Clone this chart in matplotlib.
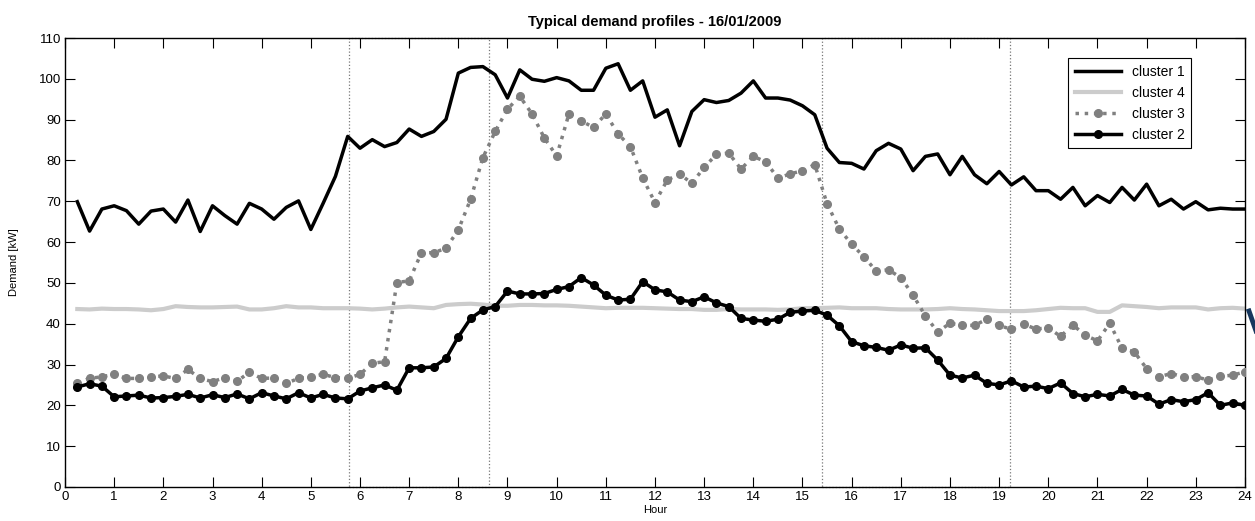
import matplotlib
matplotlib.use('Agg')
import matplotlib.pyplot as plt
from matplotlib.lines import Line2D
import numpy as np

plt.rcParams['font.family'] = ['Liberation Sans', 'DejaVu Sans']

# quarter-hour steps 0.25 .. 24
hours = np.arange(1, 97) * 0.25

cluster1 = [69.9, 62.7, 68.1, 68.9, 67.7, 64.4, 67.6, 68.1, 64.9, 70.3, 62.6, 68.9,
            66.5, 64.4, 69.5, 68.1, 65.6, 68.5, 70.1, 63.1, 69.5, 76.1, 85.9, 83.0,
            85.1, 83.4, 84.4, 87.7, 85.9, 87.1, 90.1, 101.4, 102.8, 103.0, 101.0, 95.3,
            102.2, 99.9, 99.4, 100.3, 99.5, 97.2, 97.2, 102.6, 103.7, 97.2, 99.5, 90.6,
            92.4, 83.6, 92.0, 94.9, 94.2, 94.7, 96.5, 99.5, 95.3, 95.3, 94.8, 93.4,
            91.2, 83.0, 79.5, 79.3, 77.9, 82.4, 84.2, 82.8, 77.5, 81.0, 81.6, 76.5,
            81.0, 76.5, 74.3, 77.3, 74.0, 76.0, 72.6, 72.6, 70.5, 73.4, 68.9, 71.4,
            69.7, 73.4, 70.3, 74.2, 68.9, 70.5, 68.1, 69.9, 67.9, 68.3, 68.1, 68.1]

cluster4 = [43.6, 43.5, 43.7, 43.6, 43.6, 43.5, 43.3, 43.6, 44.3, 44.1, 44.0, 44.0,
            44.1, 44.2, 43.5, 43.5, 43.8, 44.3, 44.0, 44.0, 43.8, 43.8, 43.8, 43.7,
            43.5, 43.7, 44.0, 44.2, 44.0, 43.8, 44.6, 44.8, 44.9, 44.7, 44.4, 44.4,
            44.6, 44.6, 44.5, 44.5, 44.4, 44.2, 44.0, 43.8, 43.9, 43.9, 43.9, 43.8,
            43.7, 43.6, 43.6, 43.4, 43.4, 43.6, 43.5, 43.5, 43.5, 43.4, 43.5, 43.8,
            43.8, 43.9, 44.0, 43.8, 43.8, 43.8, 43.6, 43.5, 43.5, 43.5, 43.6, 43.8,
            43.6, 43.5, 43.3, 43.1, 43.1, 43.1, 43.3, 43.6, 43.9, 43.8, 43.8, 42.9,
            42.9, 44.5, 44.3, 44.1, 43.8, 44.0, 44.0, 44.0, 43.5, 43.8, 43.9, 43.7]

cluster3 = [25.5, 26.6, 27.0, 27.6, 26.6, 26.6, 27.0, 27.2, 26.6, 28.8, 26.6, 25.8,
            26.8, 25.9, 28.1, 26.6, 26.7, 25.4, 26.6, 27.0, 27.6, 26.8, 26.6, 27.6,
            30.3, 30.7, 50.1, 50.5, 57.4, 57.4, 58.5, 63.0, 70.5, 80.7, 87.1, 92.6,
            95.7, 91.4, 85.5, 81.1, 91.4, 89.7, 88.1, 91.4, 86.5, 83.4, 75.7, 69.7,
            75.2, 76.7, 74.4, 78.3, 81.5, 81.8, 77.9, 81.0, 79.7, 75.7, 76.7, 77.5,
            79.0, 69.4, 63.2, 59.5, 56.4, 52.9, 53.2, 51.3, 47.0, 41.9, 38.0, 40.1,
            39.6, 39.6, 41.1, 39.6, 38.6, 39.9, 38.7, 39.0, 36.9, 39.7, 37.2, 35.8,
            40.1, 34.0, 33.1, 29.0, 27.0, 27.8, 27.0, 27.0, 26.2, 27.1, 27.4, 28.2]

cluster2 = [24.5, 25.3, 24.7, 22.1, 22.3, 22.5, 21.8, 21.9, 22.2, 22.7, 21.8, 22.6,
            21.9, 22.8, 21.6, 23.1, 22.3, 21.6, 23.1, 21.8, 22.7, 21.8, 21.6, 23.5,
            24.3, 25.0, 23.7, 29.2, 29.2, 29.4, 31.5, 36.8, 41.3, 43.4, 44.2, 48.0,
            47.3, 47.3, 47.4, 48.4, 49.1, 51.3, 49.5, 47.0, 45.8, 46.0, 50.3, 48.3,
            47.8, 45.8, 45.4, 46.6, 45.1, 44.2, 41.3, 40.9, 40.6, 41.1, 42.8, 43.1,
            43.3, 42.1, 39.5, 35.6, 34.6, 34.2, 33.5, 34.8, 34.0, 34.1, 31.1, 27.4,
            26.7, 27.4, 25.4, 25.0, 26.0, 24.5, 24.7, 24.1, 25.5, 22.9, 22.1, 22.7,
            22.3, 23.9, 22.5, 22.3, 20.3, 21.4, 20.9, 21.4, 23.1, 20.0, 20.6, 20.0]

# highlighted periods (hours)
periods = [(5.78, 8.62), (15.39, 19.22)]

fig = plt.figure(figsize=(12.55, 5.21), dpi=100)
ax = fig.add_axes([0.0518, 0.0653, 0.9402, 0.8617])

for a, b in periods:
    ax.add_patch(plt.Rectangle((a, 0), b - a, 110, fill=False, edgecolor='#777777',
                               linestyle=':', linewidth=0.9, clip_on=False, zorder=1))

ax.plot(hours, cluster1, color='black', lw=2.5, label='cluster 1', zorder=3)
ax.plot(hours, cluster4, color='#cccccc', lw=3, label='cluster 4', zorder=2)
ax.plot(hours, cluster3, color='#808080', lw=2.5, ls=':', marker='o', ms=5.5,
        markerfacecolor='#808080', markeredgecolor='#808080', label='cluster 3', zorder=3)
ax.plot(hours, cluster2, color='black', lw=2.5, marker='o', ms=5.5,
        label='cluster 2', zorder=4)

ax.set_xlim(0, 24)
ax.set_ylim(0, 110)
ax.set_xticks(range(0, 25))
ax.set_yticks(range(0, 111, 10))
ax.tick_params(direction='in', length=7, width=0.8, top=True, right=True,
               labelsize=9.5, pad=3)
for s in ax.spines.values():
    s.set_linewidth(1.0)

ax.set_xlabel('Hour', fontsize=8, labelpad=1)
ax.set_ylabel('Demand [kW]', fontsize=8, labelpad=14)
ax.set_title('Typical demand profiles - 16/01/2009', fontsize=10.5,
             fontweight='bold', pad=9)

leg = ax.legend(loc='upper right', bbox_to_anchor=(0.96, 0.97), fontsize=10,
                fancybox=False, edgecolor='black', framealpha=1,
                handlelength=3.3, borderpad=0.45, labelspacing=0.5)
leg.get_frame().set_linewidth(0.8)

# cut-off stroke at the right border of the original image
fig.add_artist(Line2D([1249 / 1255, 1256 / 1255], [1 - 311 / 521, 1 - 331 / 521],
                      transform=fig.transFigure, color='#17375e', lw=3.5))

fig.savefig('out.png', dpi=100)
